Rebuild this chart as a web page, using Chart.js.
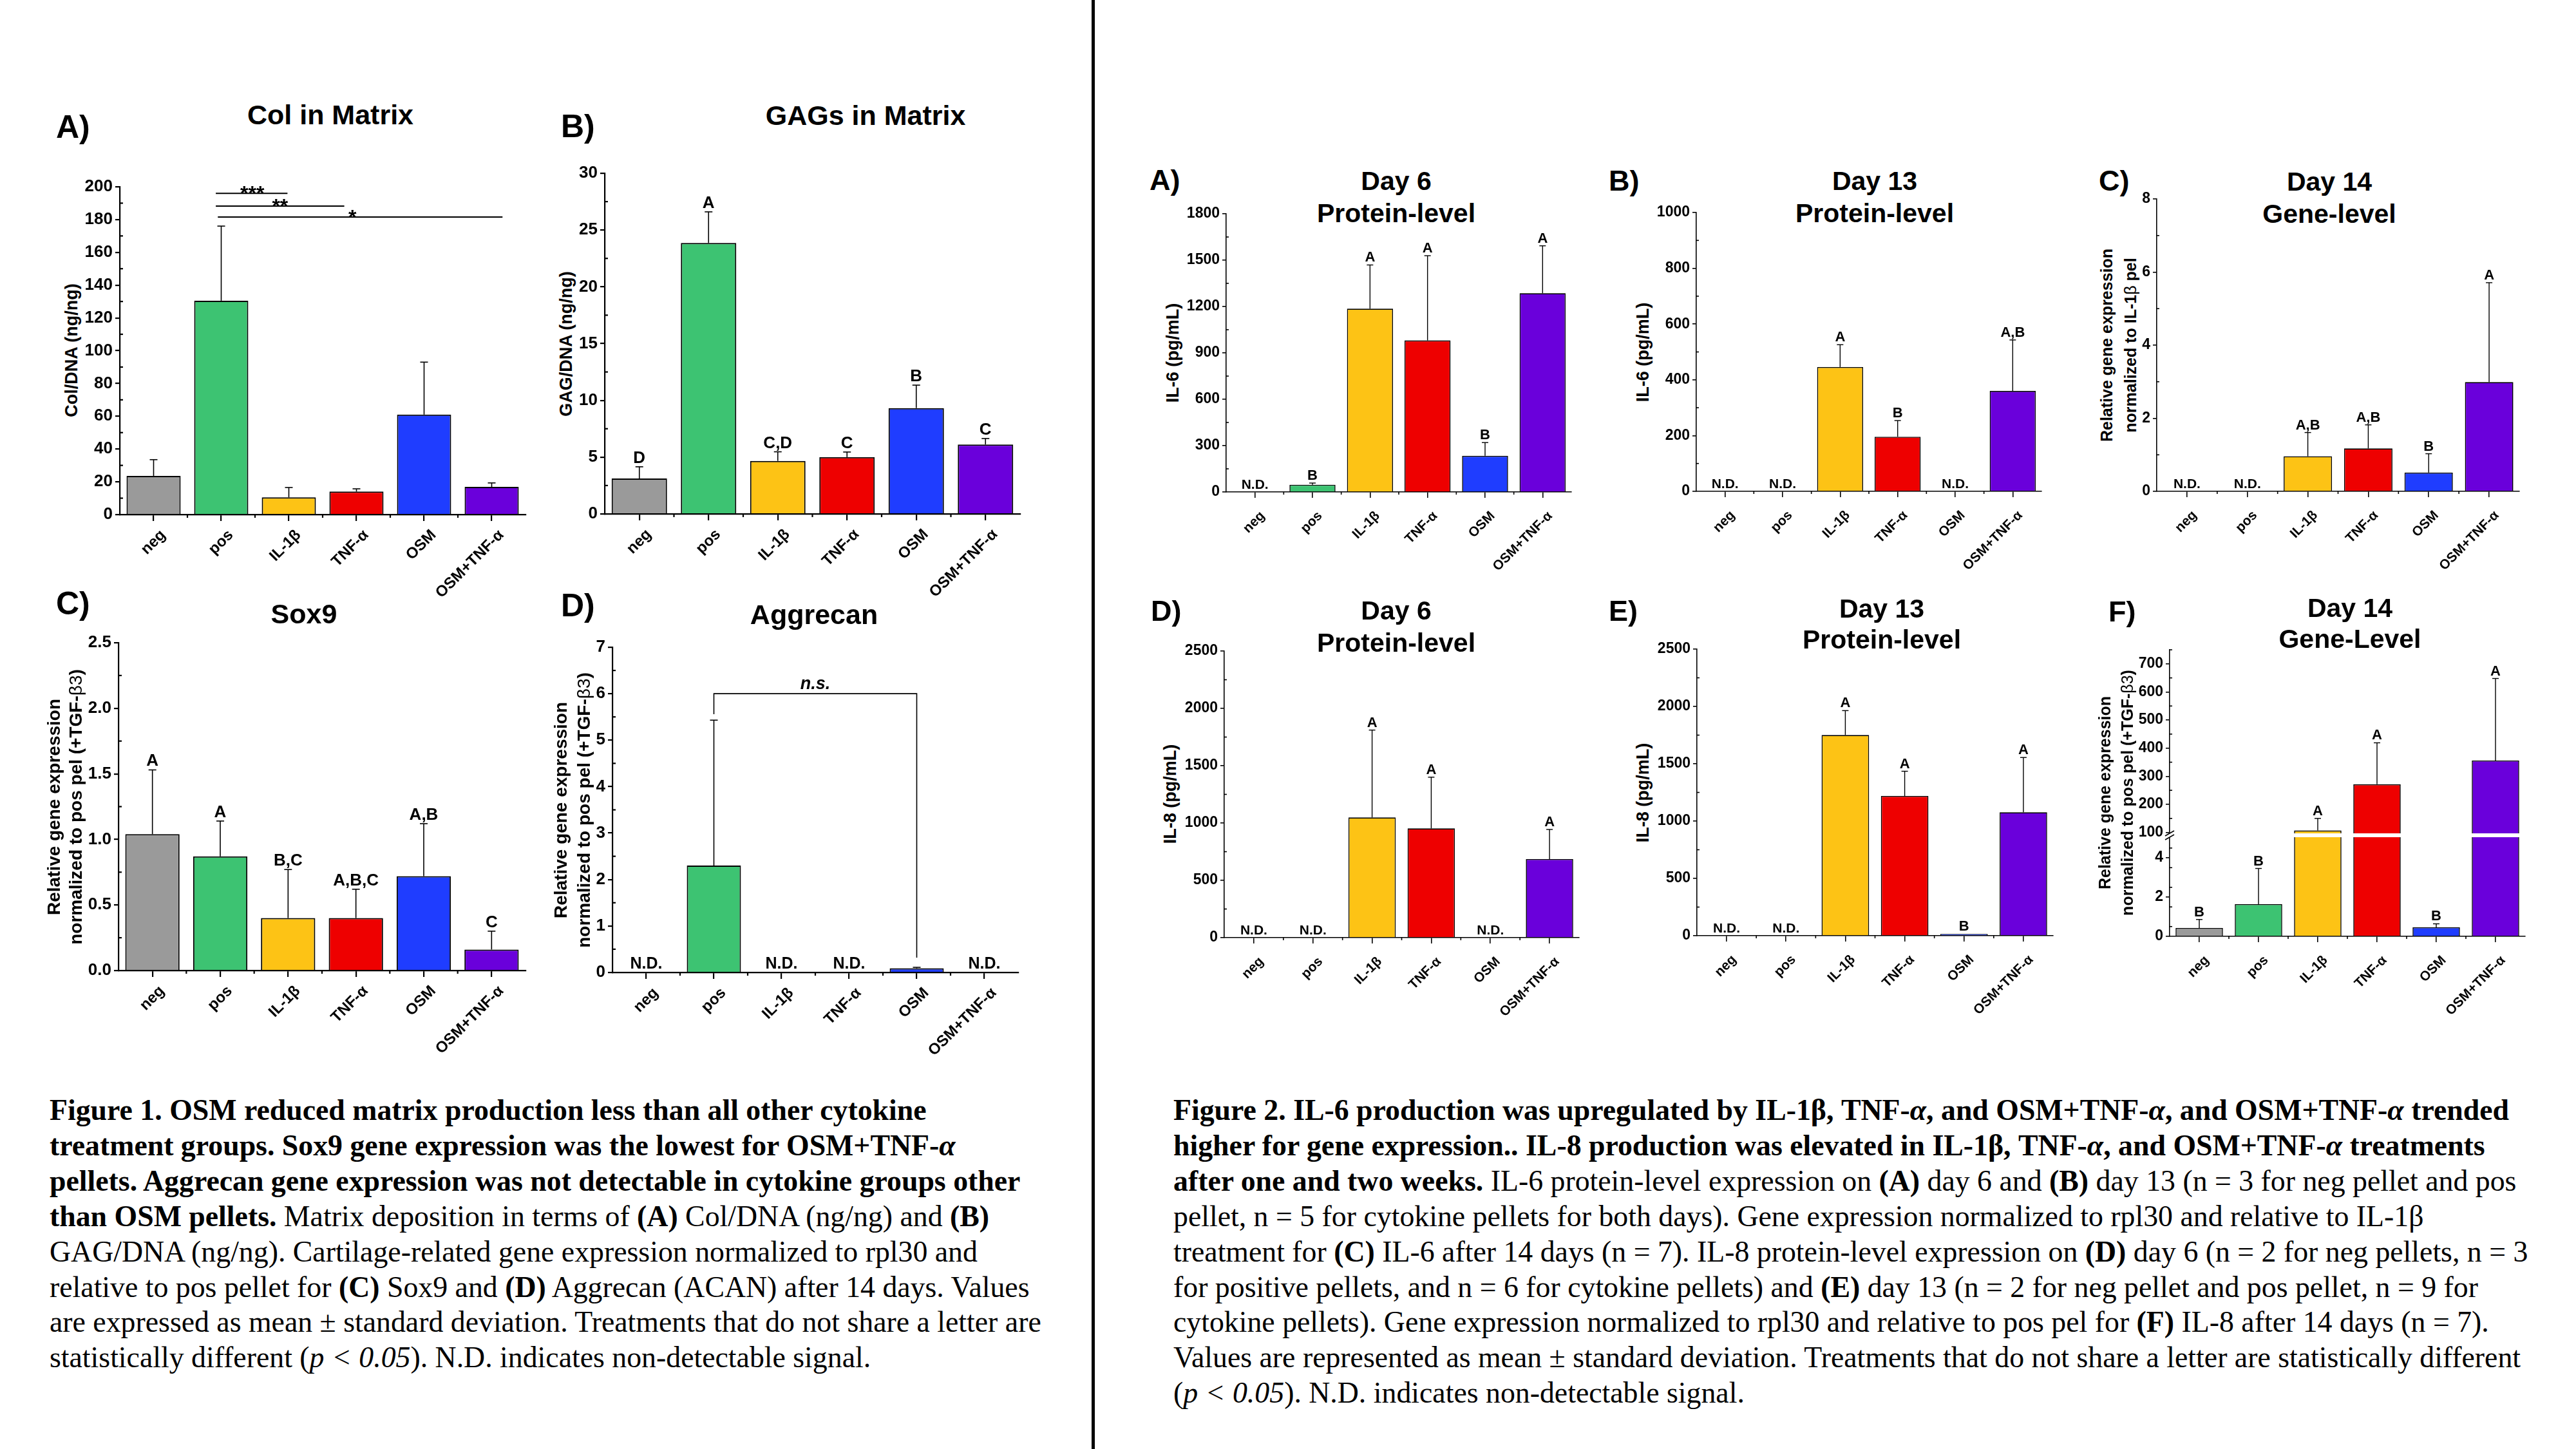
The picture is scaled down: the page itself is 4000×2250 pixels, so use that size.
<!DOCTYPE html>
<html>
<head>
<meta charset="utf-8">
<title>Figures 1 and 2</title>
<script src="https://cdn.jsdelivr.net/npm/chart.js@4.4.1/dist/chart.umd.min.js"></script>
<style>
  html, body { margin:0; padding:0; background:#fff; }
  #page { position:relative; width:4000px; height:2250px; overflow:hidden; background:#fff; }
  #page canvas { position:absolute; }
  .t { position:absolute; white-space:nowrap; font-family:"Liberation Sans", Arial, Helvetica, sans-serif; font-weight:bold; color:#000; line-height:1; }
  .t .sym { font-weight:normal; }
  .cap { position:absolute; white-space:nowrap; font-family:"Liberation Serif","Times New Roman",serif; color:#000; font-size:45.8px; line-height:54.9px; }
  #divider { position:absolute; left:1695px; top:0; width:5px; height:2250px; background:#000; }
</style>
</head>
<body>
<div id="page">
  <div id="divider"></div>
  <div class="cap" style="left:77px; top:1697px;">
    <b>Figure 1. OSM reduced matrix production less than all other cytokine</b><br>
    <b>treatment groups. Sox9 gene expression was the lowest for OSM+TNF-<i>α</i></b><br>
    <b>pellets. Aggrecan gene expression was not detectable in cytokine groups other</b><br>
    <b>than OSM pellets.</b> Matrix deposition in terms of <b>(A)</b> Col/DNA (ng/ng) and <b>(B)</b><br>
    GAG/DNA (ng/ng). Cartilage-related gene expression normalized to rpl30 and<br>
    relative to pos pellet for <b>(C)</b> Sox9 and <b>(D)</b> Aggrecan (ACAN) after 14 days. Values<br>
    are expressed as mean ± standard deviation. Treatments that do not share a letter are<br>
    statistically different (<i>p &lt; 0.05</i>). N.D. indicates non-detectable signal.
  </div>
  <div class="cap" style="left:1822px; top:1697px;">
    <b>Figure 2. IL-6 production was upregulated by IL-1β, TNF-<i>α</i>, and OSM+TNF-<i>α</i>, and OSM+TNF-<i>α</i> trended</b><br>
    <b>higher for gene expression.. IL-8 production was elevated in IL-1β, TNF-<i>α</i>, and OSM+TNF-<i>α</i> treatments</b><br>
    <b>after one and two weeks.</b> IL-6 protein-level expression on <b>(A)</b> day 6 and <b>(B)</b> day 13 (n = 3 for neg pellet and pos<br>
    pellet, n = 5 for cytokine pellets for both days). Gene expression normalized to rpl30 and relative to IL-1β<br>
    treatment for <b>(C)</b> IL-6 after 14 days (n = 7). IL-8 protein-level expression on <b>(D)</b> day 6 (n = 2 for neg pellets, n = 3<br>
    for positive pellets, and n = 6 for cytokine pellets) and <b>(E)</b> day 13 (n = 2 for neg pellet and pos pellet, n = 9 for<br>
    cytokine pellets). Gene expression normalized to rpl30 and relative to pos pel for <b>(F)</b> IL-8 after 14 days (n = 7).<br>
    Values are represented as mean ± standard deviation. Treatments that do not share a letter are statistically different<br>
    (<i>p &lt; 0.05</i>). N.D. indicates non-detectable signal.
  </div>
</div>
<script>
// ---------------- DATA ----------------
const categories = ['neg', 'pos', 'IL-1β', 'TNF-α', 'OSM', 'OSM+TNF-α'];
const barColors = ['#9a9a9a', '#3dc372', '#fdc315', '#ee0000', '#1f3dff', '#6a00db'];

// Figure 1
const colMean = [23.6, 130.5, 10.5, 14.0, 61.0, 16.9];
const colSD   = [9.9, 45.5, 6.0, 1.7, 32.0, 2.4];
const colYTicks = [0, 20, 40, 60, 80, 100, 120, 140, 160, 180, 200];
const colSig = [ // label, from index, to index, y value, label index
  ['***', 0.92, 1.98, 196.0, 1.46],
  ['**',  0.92, 2.82, 188.2, 1.87],
  ['*',   0.95, 5.16, 181.5, 2.94]
];

const gagMean = [3.12, 23.86, 4.67, 5.00, 9.32, 6.11];
const gagSD   = [1.03, 2.74, 0.80, 0.45, 2.02, 0.53];
const gagLetters = ['D', 'A', 'C,D', 'C', 'B', 'C'];
const gagYTicks = [0, 5, 10, 15, 20, 25, 30];

const sox9Mean = [1.04, 0.87, 0.40, 0.40, 0.72, 0.16];
const sox9SD   = [0.49, 0.27, 0.37, 0.22, 0.40, 0.14];
const sox9Letters = ['A', 'A', 'B,C', 'A,B,C', 'A,B', 'C'];
const sox9YTicks = [0, 0.5, 1.0, 1.5, 2.0, 2.5];

const acanMean = [null, 2.30, null, null, 0.09, null];
const acanSD   = [null, 3.13, null, null, 0.02, null];
const acanLetters = ['N.D.', '', 'N.D.', 'N.D.', '', 'N.D.'];
const acanYTicks = [0, 1, 2, 3, 4, 5, 6, 7];
const acanNS = { label: 'n.s.', from: 1, to: 4, y: 6, fromEnd: 5.56, toEnd: 0.32 };

// Figure 2
const il6d6Mean = [null, 47, 1186, 981, 234, 1286];
const il6d6SD   = [null, 11, 283, 548, 86, 307];
const il6d6Letters = ['N.D.', 'B', 'A', 'A', 'B', 'A'];
const il6d6YTicks = [0, 300, 600, 900, 1200, 1500, 1800];

const il6d13Mean = [null, null, 446, 196, null, 360];
const il6d13SD   = [null, null, 80, 58, null, 183];
const il6d13Letters = ['N.D.', 'N.D.', 'A', 'B', 'N.D.', 'A,B'];
const il6d13YTicks = [0, 200, 400, 600, 800, 1000];

const il6GeneMean = [null, null, 0.96, 1.175, 0.514, 2.99];
const il6GeneSD   = [null, null, 0.65, 0.645, 0.516, 2.72];
const il6GeneLetters = ['N.D.', 'N.D.', 'A,B', 'A,B', 'B', 'A'];
const il6GeneYTicks = [0, 2, 4, 6, 8];

const il8d6Mean = [null, null, 1049, 953, null, 686];
const il8d6SD   = [null, null, 762, 447, null, 258];
const il8d6Letters = ['N.D.', 'N.D.', 'A', 'A', 'N.D.', 'A'];
const il8YTicks = [0, 500, 1000, 1500, 2000, 2500];

const il8d13Mean = [null, null, 1751, 1219, 15, 1077];
const il8d13SD   = [null, null, 213, 216, 0, 478];
const il8d13Letters = ['N.D.', 'N.D.', 'A', 'A', 'B', 'A'];

const il8GeneMean = [0.43, 1.64, 107, 271.5, 0.46, 356];
const il8GeneSD   = [0.43, 1.82, 43, 147.5, 0.18, 292];
const il8GeneLetters = ['B', 'B', 'A', 'A', 'B', 'A'];
const il8GeneLowTicks = [0, 1, 2, 3, 4];
const il8GeneHighTicks = [100, 200, 300, 400, 500, 600, 700];
const F_LOW_MAX = 5.15, F_HIGH_MIN = 90, F_HIGH_MAX = 750, F_BREAK = 100;

// ---------------- RENDERING ----------------
const page = document.getElementById('page');
const SANS = '"Liberation Sans", Arial, Helvetica, sans-serif';
const YW = 130, PT = 40, PR = 40, XH = 210;

function addDiv(html, css) {
  const d = document.createElement('div');
  d.className = 't';
  d.innerHTML = html;
  d.style.cssText = css;
  page.appendChild(d);
}
function centerText(html, cx, cy, size, lh) {
  addDiv(html, `left:${cx}px;top:${cy}px;font-size:${size}px;line-height:${lh || size}px;text-align:center;transform:translate(-50%,-50%);`);
}
function leftText(html, x, cy, size) {
  addDiv(html, `left:${x}px;top:${cy}px;font-size:${size}px;transform:translateY(-50%);`);
}
function rotText(html, cx, cy, size, lh) {
  addDiv(html, `left:${cx}px;top:${cy}px;font-size:${size}px;line-height:${lh || size}px;text-align:center;transform:translate(-50%,-50%) rotate(-90deg);`);
}

function minorOf(t, max) {
  const out = [];
  for (let i = 0; i < t.length - 1; i++) out.push((t[i] + t[i + 1]) / 2);
  const h = (t[t.length - 1] - t[t.length - 2]) / 2;
  if (t[t.length - 1] + h <= max + 1e-9) out.push(t[t.length - 1] + h);
  return out;
}

const st1 = { tickFont: 26, xFont: 24, letterFont: 26, ndFont: 25, lw: 2.2, bw: 2, ebw: 1.6, cap: 12,
  tickLen: 7, xTickLen: 10, minorLen: 5, xLabelOffset: 15, xPad: 8, gap: 6 };
const st2 = { tickFont: 23, xFont: 21, letterFont: 22, ndFont: 21, lw: 1.6, bw: 1.6, ebw: 1.4, cap: 10,
  tickLen: 6, xTickLen: 9, minorLen: 4, xLabelOffset: 12, xPad: 16, gap: 5 };

function yAxis(st, ticksArr, min, max, fmt, extra) {
  return Object.assign({
    type: 'linear', position: 'left', min: min, max: max,
    afterBuildTicks: s => { s.ticks = ticksArr.map(v => ({ value: v })); },
    afterFit: s => { s.width = YW; },
    ticks: { font: { family: SANS, size: st.tickFont, weight: 'bold' }, color: '#000', padding: 4,
      callback: v => fmt ? fmt(v) : String(v) },
    grid: { display: true, drawOnChartArea: false, drawTicks: true, tickLength: st.tickLen, color: '#000', lineWidth: st.lw },
    border: { display: true, color: '#000', width: st.lw }
  }, extra || {});
}

function xAxis(st) {
  return {
    type: 'category', labels: categories, offset: true, z: 1,
    afterFit: s => { s.height = XH; },
    ticks: { autoSkip: false, maxRotation: 45, minRotation: 45, labelOffset: st.xLabelOffset, padding: st.xPad,
      font: { family: SANS, size: st.xFont, weight: 'bold' }, color: '#000' },
    grid: { display: true, offset: false, drawOnChartArea: false, drawTicks: true, tickLength: st.xTickLen, color: '#000', lineWidth: st.lw },
    border: { display: true, color: '#000', width: st.lw }
  };
}

function makeChart(c) {
  const st = c.st;
  const L = Math.round(c.rect[0]), R = c.rect[1], T = Math.round(c.rect[2]), B = c.rect[3];
  const W = Math.round(YW + (R - L) + PR), H = Math.round(PT + (B - T) + XH);
  const cv = document.createElement('canvas');
  cv.width = W; cv.height = H;
  cv.style.left = (L - YW) + 'px'; cv.style.top = (T - PT) + 'px';
  cv.style.width = W + 'px'; cv.style.height = H + 'px';
  page.appendChild(cv);

  let datasets, scales, axisOf, axesInfo;
  if (c.broken) {
    datasets = [
      { data: c.means.map(v => v == null ? null : Math.min(v, F_LOW_MAX)), yAxisID: 'yLow', grouped: false,
        backgroundColor: barColors, borderColor: '#000', borderWidth: st.bw, barPercentage: 0.8, categoryPercentage: 1 },
      { data: c.means.map(v => v != null && v > F_BREAK ? v : null), yAxisID: 'yHigh', grouped: false,
        backgroundColor: barColors, borderColor: '#000', borderWidth: st.bw, barPercentage: 0.8, categoryPercentage: 1 }
    ];
    scales = {
      x: xAxis(st),
      yLow: yAxis(st, c.lowTicks, 0, F_LOW_MAX, null, { stack: 'brk', stackWeight: c.lowWeight }),
      yHigh: yAxis(st, c.highTicks, F_HIGH_MIN, F_HIGH_MAX, null, { stack: 'brk', stackWeight: c.highWeight })
    };
    axisOf = v => (v > F_BREAK ? 'yHigh' : 'yLow');
    axesInfo = [{ id: 'yLow', ticks: c.lowTicks, max: F_LOW_MAX }, { id: 'yHigh', ticks: c.highTicks, max: F_HIGH_MAX }];
  } else {
    datasets = [{ data: c.means, yAxisID: 'y', backgroundColor: barColors, borderColor: '#000', borderWidth: st.bw,
      barPercentage: 0.8, categoryPercentage: 1 }];
    scales = { x: xAxis(st), y: yAxis(st, c.yTicks, 0, c.yTicks[c.yTicks.length - 1], c.fmt) };
    axisOf = () => 'y';
    axesInfo = [{ id: 'y', ticks: c.yTicks, max: c.yTicks[c.yTicks.length - 1] }];
  }

  const annot = {
    id: 'annot',
    afterDatasetsDraw(chart) {
      const ctx = chart.ctx, xs = chart.scales.x, area = chart.chartArea;
      ctx.save();
      ctx.strokeStyle = '#000'; ctx.fillStyle = '#000';
      // axis break (white gap + slashes)
      if (c.broken) {
        const J = chart.scales.yHigh.bottom;
        ctx.fillStyle = '#fff';
        ctx.fillRect(area.left - 3, J - 3, area.right - area.left + 6, 6);
        ctx.fillStyle = '#000';
        ctx.lineWidth = st.lw;
        [-3, 3].forEach(k => {
          ctx.beginPath(); ctx.moveTo(area.left - 7, J + k + 4); ctx.lineTo(area.left + 7, J + k - 4); ctx.stroke();
        });
      }
      // error bars and letters
      c.means.forEach((m, i) => {
        const x = xs.getPixelForValue(i);
        const lab = c.letters ? c.letters[i] : '';
        if (m == null) {
          if (lab) {
            const ys = chart.scales[axisOf(0)];
            ctx.font = `bold ${st.ndFont}px ${SANS}`; ctx.textAlign = 'center'; ctx.textBaseline = 'alphabetic';
            ctx.fillText(lab, x, ys.getPixelForValue(0) - st.gap);
          }
          return;
        }
        const ys = chart.scales[axisOf(m)];
        let top = ys.getPixelForValue(m);
        const sd = c.sds[i];
        if (sd) {
          const y1 = ys.getPixelForValue(m + sd);
          ctx.lineWidth = st.ebw;
          ctx.beginPath(); ctx.moveTo(x, top); ctx.lineTo(x, y1); ctx.stroke();
          ctx.beginPath(); ctx.moveTo(x - st.cap / 2, y1); ctx.lineTo(x + st.cap / 2, y1); ctx.stroke();
          top = y1;
        }
        if (lab) {
          ctx.font = `bold ${st.letterFont}px ${SANS}`; ctx.textAlign = 'center'; ctx.textBaseline = 'alphabetic';
          ctx.fillText(lab, x, top - st.gap);
        }
      });
      // significance lines (Fig 1A)
      if (c.sig) {
        const ys = chart.scales.y;
        c.sig.forEach(([lab, a, b, yv, lx]) => {
          const py = ys.getPixelForValue(yv);
          ctx.lineWidth = 2;
          ctx.beginPath(); ctx.moveTo(xs.getPixelForValue(a), py); ctx.lineTo(xs.getPixelForValue(b), py); ctx.stroke();
          ctx.font = `bold 32px ${SANS}`; ctx.textAlign = 'center'; ctx.textBaseline = 'alphabetic';
          ctx.fillText(lab, xs.getPixelForValue(lx), py + 11);
        });
      }
      // n.s. bracket (Fig 1D)
      if (c.ns) {
        const ys = chart.scales.y, n = c.ns;
        const x1 = xs.getPixelForValue(n.from), x2 = xs.getPixelForValue(n.to), py = ys.getPixelForValue(n.y);
        ctx.lineWidth = 1.6;
        ctx.beginPath();
        ctx.moveTo(x1, ys.getPixelForValue(n.fromEnd)); ctx.lineTo(x1, py); ctx.lineTo(x2, py); ctx.lineTo(x2, ys.getPixelForValue(n.toEnd));
        ctx.stroke();
        ctx.font = `italic bold 27px ${SANS}`; ctx.textAlign = 'center'; ctx.textBaseline = 'alphabetic';
        ctx.fillText(n.label, (x1 + x2) / 2, py - 7);
      }
      ctx.restore();
    },
    afterDraw(chart) {
      const ctx = chart.ctx, xs = chart.scales.x, area = chart.chartArea;
      ctx.save();
      ctx.strokeStyle = '#000'; ctx.lineWidth = st.lw;
      axesInfo.forEach(ax => {
        const s = chart.scales[ax.id];
        minorOf(ax.ticks, ax.max).forEach(v => {
          if (v < s.min || v > s.max) return;
          const py = s.getPixelForValue(v);
          ctx.beginPath(); ctx.moveTo(area.left, py); ctx.lineTo(area.left + st.minorLen, py); ctx.stroke();
        });
      });
      for (let i = 0; i < categories.length - 1; i++) {
        const px = xs.getPixelForValue(i + 0.5);
        ctx.beginPath(); ctx.moveTo(px, area.bottom); ctx.lineTo(px, area.bottom + st.minorLen); ctx.stroke();
      }
      ctx.restore();
    }
  };

  return new Chart(cv, {
    type: 'bar',
    data: { labels: categories, datasets: datasets },
    options: {
      responsive: false, animation: false, devicePixelRatio: 1, events: [],
      layout: { padding: { top: PT, right: PR, left: 0, bottom: 0 } },
      plugins: { legend: { display: false }, tooltip: { enabled: false }, title: { display: false } },
      scales: scales
    },
    plugins: [annot]
  });
}

// ---------- Figure 1 ----------
leftText('A)', 87, 197, 50);
centerText('Col in Matrix', 513, 178, 43);
rotText('Col/DNA (ng/ng)', 111, 544, 27);
makeChart({ st: st1, rect: [186, 816, 290, 798.5], yTicks: colYTicks, means: colMean, sds: colSD, letters: null, sig: colSig });

leftText('B)', 871, 196, 50);
centerText('GAGs in Matrix', 1344, 179, 43);
rotText('GAG/DNA (ng/ng)', 879, 534, 27);
makeChart({ st: st1, rect: [939, 1584, 269, 797.6], yTicks: gagYTicks, means: gagMean, sds: gagSD, letters: gagLetters });

leftText('C)', 87, 937, 50);
centerText('Sox9', 472, 953, 43);
rotText('Relative gene expression<br>normalized to pos pel (+TGF-<span class="sym">β3</span>)', 101, 1253, 28, 34);
makeChart({ st: st1, rect: [184, 816, 998, 1507], yTicks: sox9YTicks, fmt: v => v.toFixed(1), means: sox9Mean, sds: sox9SD, letters: sox9Letters });

leftText('D)', 871, 940, 50);
centerText('Aggrecan', 1264, 954, 43);
rotText('Relative gene expression<br>normalized to pos pel (+TGF-<span class="sym">β3</span>)', 889, 1258, 28, 36);
makeChart({ st: st1, rect: [951, 1581, 1005, 1510], yTicks: acanYTicks, means: acanMean, sds: acanSD, letters: acanLetters, ns: acanNS });

// ---------- Figure 2 ----------
leftText('A)', 1785, 279, 45);
centerText('Day 6<br>Protein-level', 2168, 306, 41, 50);
rotText('IL-6 (pg/mL)', 1821, 548, 27);
makeChart({ st: st2, rect: [1904, 2440, 332, 764], yTicks: il6d6YTicks, means: il6d6Mean, sds: il6d6SD, letters: il6d6Letters });

leftText('B)', 2498, 280, 45);
centerText('Day 13<br>Protein-level', 2911, 306, 41, 50);
rotText('IL-6 (pg/mL)', 2551, 547, 27);
makeChart({ st: st2, rect: [2634, 3170, 330, 763], yTicks: il6d13YTicks, means: il6d13Mean, sds: il6d13SD, letters: il6d13Letters });

leftText('C)', 3259, 280, 45);
centerText('Day 14<br>Gene-level', 3617, 307, 41, 50);
rotText('Relative gene expression<br>normalized to IL-1<span class="sym">β</span> pel', 3290, 536, 25, 37);
makeChart({ st: st2, rect: [3349, 3912, 308.5, 763], yTicks: il6GeneYTicks, means: il6GeneMean, sds: il6GeneSD, letters: il6GeneLetters });

leftText('D)', 1787, 948, 45);
centerText('Day 6<br>Protein-level', 2168, 973, 41, 50);
rotText('IL-8 (pg/mL)', 1817, 1233, 27);
makeChart({ st: st2, rect: [1901, 2452, 1011, 1456], yTicks: il8YTicks, means: il8d6Mean, sds: il8d6SD, letters: il8d6Letters });

leftText('E)', 2498, 948, 45);
centerText('Day 13<br>Protein-level', 2922, 969, 41, 48);
rotText('IL-8 (pg/mL)', 2551, 1231, 27);
makeChart({ st: st2, rect: [2635, 3188, 1008, 1453], yTicks: il8YTicks, means: il8d13Mean, sds: il8d13SD, letters: il8d13Letters });

leftText('F)', 3274, 949, 45);
centerText('Day 14<br>Gene-Level', 3649, 968, 41, 48);
rotText('Relative gene expression<br>normalized to pos pel (+TGF-<span class="sym">β3</span>)', 3286, 1231, 25, 35);
makeChart({ st: st2, rect: [3369, 3921, 1009, 1454], broken: true, lowTicks: il8GeneLowTicks, highTicks: il8GeneHighTicks,
  lowWeight: 157, highWeight: 288, means: il8GeneMean, sds: il8GeneSD, letters: il8GeneLetters });
</script>
</body>
</html>
